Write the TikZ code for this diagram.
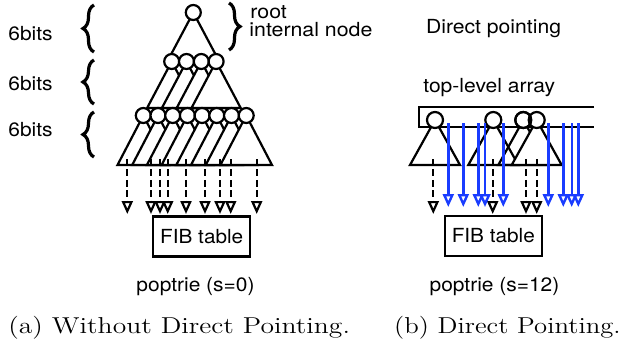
\documentclass[tikz,border=0pt]{standalone}
\usepackage{fontspec}
\newfontfamily\hv{TeX Gyre Heros}
\usetikzlibrary{arrows.meta,decorations.pathreplacing}
\definecolor{dpblue}{RGB}{25,60,255}
\newcommand\stretchtxt[2]{\scalebox{#1}[1]{#2}}
\begin{document}
\begin{tikzpicture}[x=0.5pt,y=-0.5pt,
  ln/.style={line width=1.1pt,line join=miter},
  tri/.style={draw=black,line width=1.1pt,fill=white,line join=miter},
  trio/.style={draw=black,line width=1.1pt,line join=miter},
  nd/.style={circle,draw,line width=1.1pt,fill=white,minimum size=7.5pt,inner sep=0pt},
  ndb/.style={circle,draw,line width=1.1pt,fill=white,minimum size=8pt,inner sep=0pt},
  ring/.style={circle,draw,line width=1.1pt,minimum size=8pt,inner sep=0pt},
  darr/.style={line width=1.1pt,dash pattern=on 3.4pt off 1.8pt,-{Triangle[open,length=6.5pt,width=5.5pt]}},
  barr/.style={line width=1.2pt,draw=dpblue,-{Triangle[open,length=6.5pt,width=5.5pt]}},
  brc/.style={decorate,decoration={brace,amplitude=5.5pt},line width=1.6pt},
  lbl/.style={font=\hv\fontsize{9.7pt}{11.6pt}\selectfont,inner sep=0pt},
  captxt/.style={font=\fontsize{11.5pt}{14pt}\selectfont,inner sep=0pt},
  fib/.style={draw,line width=1.1pt,fill=white,minimum width=48.5pt,minimum height=20pt,inner sep=0pt,font=\hv\fontsize{9.7pt}{11.6pt}\selectfont}]
\useasboundingbox (0,0) rectangle (623,348);

% ---------- left panel ----------
\draw[tri] (193.3,12.5) -- ++(-26,49) -- ++(52,0) -- cycle;
\foreach \x in {171.7,186.5,201.3,216.1}
  \draw[tri] (\x,61.5) -- ++(-24.6,46.5) -- ++(49.2,0) -- cycle;
\foreach \i in {0,...,7}{
  \pgfmathsetmacro\xx{143.3+14.7*\i}
  \draw[tri] (\xx,115.5) -- ++(-25.8,49.5) -- ++(51.6,0) -- cycle;
}
\node[nd] (r0) at (193.3,12.5) {};
\foreach \x [count=\i] in {171.7,186.5,201.3,216.1}
  \node[nd] (a\i) at (\x,61.5) {};
\foreach \i in {0,...,7}{
  \pgfmathsetmacro\xx{143.3+14.7*\i}
  \node[nd] (b\i) at (\xx,115.5) {};
}
\node[fib] (fibL) at (201.7,236.5) {\stretchtxt{1.07}{FIB table}};
\foreach \x [count=\i] in {127.3,151,160,167.7,186,205,220,230.7,256.7}{
  \coordinate (ls\i) at (\x,159);
  \coordinate (le\i) at (\x,214);
  \draw[darr] (ls\i) -- (le\i);
}
% labels and braces
\node[lbl,anchor=base west] (t1) at (8,40.5) {\stretchtxt{1.08}{6bits}};
\node[lbl,anchor=base west] (t2) at (8,90.7) {\stretchtxt{1.08}{6bits}};
\node[lbl,anchor=base west] (t3) at (8,136.7) {\stretchtxt{1.08}{6bits}};
\coordinate (br1a) at (94,52); \coordinate (br1b) at (94,5);
\coordinate (br2a) at (94,104); \coordinate (br2b) at (94,60);
\coordinate (br3a) at (94,157); \coordinate (br3b) at (94,112);
\draw[brc] (br1a) -- (br1b);
\draw[brc] (br2a) -- (br2b);
\draw[brc] (br3a) -- (br3b);
\coordinate (br4a) at (229,3); \coordinate (br4b) at (229,50);
\draw[brc] (br4a) -- (br4b);
\node[lbl,anchor=base west] (root) at (250,18.3) {\stretchtxt{1.1}{root}};
\node[lbl,anchor=base west] (inn) at (249,36) {\stretchtxt{1.1}{internal node}};
\node[lbl,anchor=base] (pl) at (195.5,291.5) {\stretchtxt{1.08}{poptrie (s=0)}};

% ---------- right panel ----------
\node[lbl,anchor=base west] (dp) at (425.7,33.3) {\stretchtxt{1.09}{Direct pointing}};
\node[lbl,anchor=base west] (tla) at (423,92.7) {\stretchtxt{1.085}{top-level array}};
\draw[ln] (594,107) -- (419,107) -- (419,126.7) -- (594,126.7);
\draw[tri] (435,120) -- ++(-25,45) -- ++(50,0) -- cycle;
\draw[tri] (493.3,120) -- ++(-25,45) -- ++(50,0) -- cycle;
\draw[trio] (523.3,120) -- ++(-25,45) -- ++(50,0) -- cycle;
\draw[tri] (536.7,120) -- ++(-25,45) -- ++(50,0) -- cycle;
\node[ndb] (c1) at (435,120) {};
\node[ndb] (c2) at (493.3,120) {};
\node[ndb] (c3) at (523.3,120) {};
\node[ndb] (c4) at (536.7,120) {};
\node[ring] (c3r) at (523.3,120) {};
\node[fib] (fibR) at (493.3,236) {\stretchtxt{1.07}{FIB table}};
\foreach \x [count=\i] in {433.3,492.7,526,536.7}{
  \coordinate (rs\i) at (\x,159);
  \coordinate (re\i) at (\x,214);
  \draw[darr] (rs\i) -- (re\i);
}
\foreach \x [count=\i] in {448.3,463.3,478.3,485,503.3,548.3,563.3,571.7,578.3}{
  \coordinate (bs\i) at (\x,123);
  \coordinate (be\i) at (\x,207);
  \draw[barr] (bs\i) -- (be\i);
}
\node[lbl,anchor=base] (pr) at (494.5,291.5) {\stretchtxt{1.08}{poptrie (s=12)}};

% ---------- captions ----------
\node[captxt,anchor=base west] (capa) at (8,333) {\stretchtxt{1.2}{(a) Without Direct Pointing.}};
\node[captxt,anchor=base east] (capb) at (621,333) {\stretchtxt{1.16}{(b) Direct Pointing.}};
\end{tikzpicture}
\end{document}
